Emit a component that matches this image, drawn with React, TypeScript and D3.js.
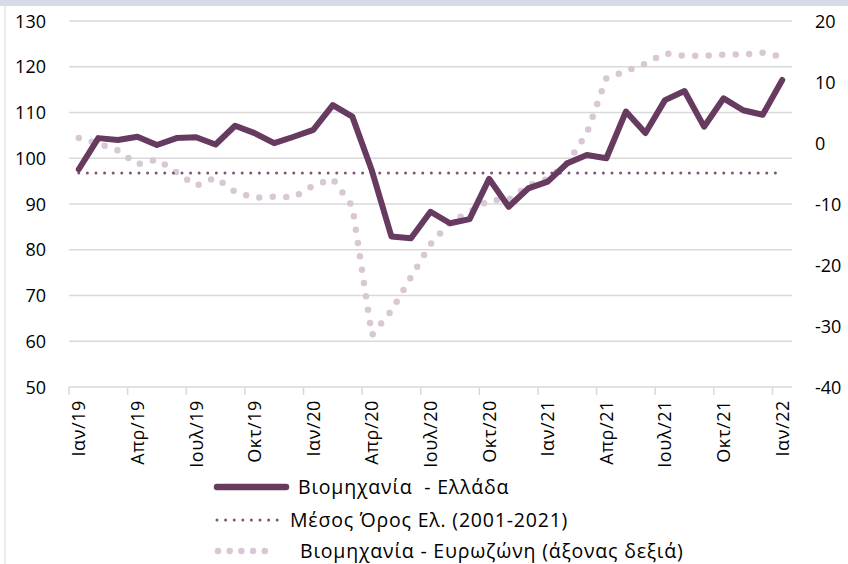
import * as d3 from 'd3';

const months = ['Ιαν', 'Φεβ', 'Μαρ', 'Απρ', 'Μαι', 'Ιουν', 'Ιουλ', 'Αυγ', 'Σεπ', 'Οκτ', 'Νοε', 'Δεκ'];
const years = ['19', '20', '21', '22'];
const categories: string[] = [];
years.forEach(y => months.forEach(m => categories.push(`${m}/${y}`)));
categories.length = 37; // Ιαν/19 .. Ιαν/22

const greece = [97.6, 104.4, 104.0, 104.7, 102.9, 104.4, 104.6, 103.0, 107.1, 105.5, 103.3, 104.7, 106.2, 111.6, 109.1, 97.3, 82.9, 82.5, 88.3, 85.8, 86.7, 95.5, 89.4, 93.4, 94.9, 98.9, 100.7, 100.0, 110.2, 105.5, 112.7, 114.7, 106.9, 113.1, 110.5, 109.5, 117.1];
const euro = [0.8, -0.1, -1.2, -3.5, -2.7, -4.8, -7.0, -5.7, -8.0, -9.0, -8.8, -8.9, -7.0, -5.9, -10.4, -31.5, -27.5, -22.0, -16.6, -13.0, -11.3, -9.4, -9.3, -7.0, -5.9, -3.3, 1.6, 10.6, 11.8, 13.0, 14.7, 14.3, 14.3, 14.5, 14.5, 14.8, 14.1];
const average = 96.8;

const leftTicks = [50, 60, 70, 80, 90, 100, 110, 120, 130];
const rightTicks = [-40, -30, -20, -10, 0, 10, 20];

const legendLabels = ['Βιομηχανία  - Ελλάδα', 'Μέσος Όρος Ελ. (2001-2021)', 'Βιομηχανία - Ευρωζώνη (άξονας δεξιά)'];

const W = 848, H = 564;
const FONT = '"Open Sans", "Noto Sans", sans-serif';
const C_MAIN = '#673a60';
const C_AVG = '#7d5577';
const C_EURO = '#d8c8d5';
const C_GRID = '#d9d9d9';

export default function App() {
  const x = d3.scaleBand<string>().domain(categories).range([69, 792]).padding(0);
  const bw = x.bandwidth();
  const cx = (d: string) => (x(d) ?? 0) + bw / 2;
  const yL = d3.scaleLinear().domain([50, 130]).range([387, 21]);
  const yR = d3.scaleLinear().domain([-40, 20]).range([387, 21]);

  const mainPath = d3.line<number>().x((_, i) => cx(categories[i])).y(v => yL(v))(greece) ?? '';
  const euroPath = d3.line<number>().x((_, i) => cx(categories[i])).y(v => yR(v))(euro) ?? '';
  const avgPath = d3.line<number>().x((_, i) => cx(categories[i])).y(() => yL(average))(greece) ?? '';

  const shown = categories.filter((_, i) => i % 3 === 0);

  return (
    <svg width={W} height={H} style={{ position: 'absolute', left: 0, top: 0, background: '#fff' }}
      fontFamily={FONT}>
      <rect x={0} y={0} width={W} height={6} fill="#d6dce5" />
      <line x1={5} x2={5} y1={6} y2={H} stroke={C_GRID} strokeWidth={1} />

      {leftTicks.map(t => (
        <line key={t} x1={69} x2={792} y1={yL(t)} y2={yL(t)} stroke={C_GRID} strokeWidth={1.5} />
      ))}
      {shown.map(d => (
        <line key={d} x1={x(d)} x2={x(d)} y1={yL(50)} y2={yL(50) + 8} stroke={C_GRID} strokeWidth={1.5} />
      ))}

      {leftTicks.map(t => (
        <text key={t} x={46} y={yL(t) + 6.5} textAnchor="end" fontSize={18} fill="#000">{t}</text>
      ))}
      {rightTicks.map(t => (
        <text key={t} x={815} y={yR(t) + 6.5} textAnchor="start" fontSize={18} fill="#000">{t}</text>
      ))}
      {shown.map(d => (
        <text key={d} transform={`translate(${cx(d) + 6.5},400) rotate(-90)`} textAnchor="end" fontSize={18}
          letterSpacing={0.6} fill="#000">{d}</text>
      ))}

      <path d={euroPath} fill="none" stroke={C_EURO} strokeWidth={6.5} strokeLinecap="round" strokeDasharray="0 13.5" />
      <path d={avgPath} fill="none" stroke={C_AVG} strokeWidth={3} strokeLinecap="round" strokeDasharray="0 8.6" />
      <path d={mainPath} fill="none" stroke={C_MAIN} strokeWidth={6} strokeLinejoin="round" strokeLinecap="round" />

      <g fontSize={19.5} fill="#000" letterSpacing={0.8}>
        <line x1={217} x2={286} y1={487} y2={487} stroke={C_MAIN} strokeWidth={6.5} strokeLinecap="round" />
        <text x={298} y={494} style={{ whiteSpace: 'pre' }}>{legendLabels[0]}</text>
        <line x1={217} x2={280} y1={520} y2={520} stroke={C_AVG} strokeWidth={3} strokeLinecap="round" strokeDasharray="0 8.6" />
        <text x={290} y={527}>{legendLabels[1]}</text>
        <line x1={218} x2={270} y1={551} y2={551} stroke={C_EURO} strokeWidth={6.5} strokeLinecap="round" strokeDasharray="0 11.7" />
        <text x={300} y={557.5}>{legendLabels[2]}</text>
      </g>
    </svg>
  );
}
